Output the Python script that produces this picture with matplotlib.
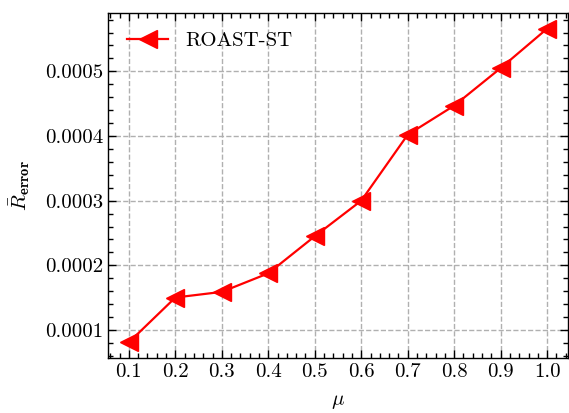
import matplotlib
matplotlib.use("Agg")
import matplotlib.pyplot as plt
from matplotlib.ticker import AutoMinorLocator, MultipleLocator

mu = [0.1, 0.2, 0.3, 0.4, 0.5, 0.6, 0.7, 0.8, 0.9, 1.0]
r_error = [0.0000810, 0.0001503, 0.0001590, 0.0001877, 0.0002450,
           0.0003000, 0.0004020, 0.0004470, 0.0005050, 0.0005660]

plt.rcParams['font.family'] = 'cmr10'
plt.rcParams['mathtext.fontset'] = 'cm'
plt.rcParams['axes.formatter.use_mathtext'] = True
plt.rcParams['font.size'] = 15

fig = plt.figure(figsize=(5.69, 4.13), dpi=100)
ax = fig.add_axes([108/569, 1 - 358/413, (568 - 108)/569, (358 - 13)/413])

ax.plot(mu, r_error, color='red', marker='<', markersize=13, linewidth=1.6, label='ROAST-ST')

ax.set_xticks(mu)
ax.set_xticklabels([f'{v:.1f}' for v in mu])
ax.yaxis.set_major_locator(MultipleLocator(0.0001))
ax.yaxis.set_major_formatter(matplotlib.ticker.FuncFormatter(lambda v, p: f'{v:.4f}'))
ax.xaxis.set_minor_locator(AutoMinorLocator(5))
ax.yaxis.set_minor_locator(AutoMinorLocator(5))

ax.tick_params(which='both', direction='in', top=True, right=True, width=1)
ax.tick_params(which='major', length=6)
ax.tick_params(which='minor', length=3.5)
for s in ax.spines.values():
    s.set_linewidth(1)

ax.grid(True, linestyle='--', color='#b0b0b0', linewidth=1)
ax.set_xlabel(r'$\mu$', labelpad=9)
ax.set_ylabel(r'$\bar{R}_{\mathbf{error}}$', labelpad=9)
ax.legend(loc='upper left', frameon=False, handlelength=2.0)

fig.savefig('out.png', dpi=100)
